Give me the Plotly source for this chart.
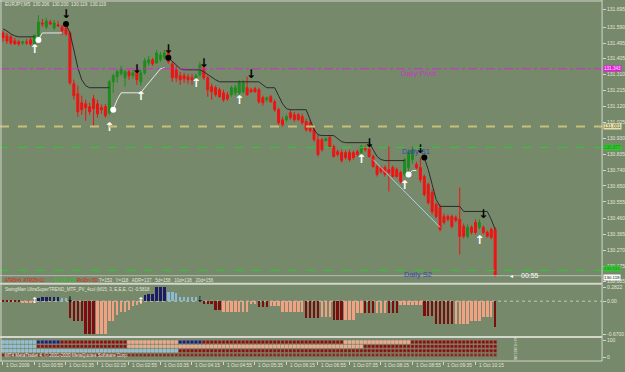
import plotly.graph_objects as go

# ---------------- data ----------------
bars = list(range(126))

open_ = [131.555,131.538,131.532,131.508,131.502,131.496,131.502,131.514,131.490,131.538,
         131.614,131.591,131.620,131.585,131.603,131.591,131.585,131.555,131.254,131.195,
         131.142,131.136,131.119,131.166,131.136,131.113,131.119,131.083,131.266,131.296,
         131.313,131.290,131.325,131.302,131.325,131.266,131.319,131.378,131.396,131.378,
         131.396,131.408,131.437,131.372,131.337,131.302,131.302,131.296,131.290,131.284,
         131.308,131.349,131.290,131.237,131.231,131.219,131.201,131.189,131.189,131.201,
         131.201,131.207,131.231,131.219,131.225,131.219,131.172,131.160,131.178,131.148,
         131.101,131.042,131.042,131.083,131.071,131.071,131.060,131.030,131.024,130.983,
         130.924,130.924,130.918,130.936,130.883,130.853,130.847,130.847,130.847,130.847,
         130.853,130.847,130.877,130.865,130.824,130.765,130.759,130.759,130.747,130.759,
         130.747,130.729,130.718,130.759,130.806,130.777,130.759,130.706,130.659,130.611,
         130.541,130.523,130.469,130.469,130.469,130.464,130.452,130.411,130.352,130.405,
         130.434,130.405,130.405,130.375,130.393,130.393]
high = [131.567,131.555,131.543,131.526,131.514,131.508,131.520,131.526,131.508,131.661,
        131.638,131.644,131.632,131.632,131.626,131.603,131.608,131.567,131.278,131.243,
        131.184,131.160,131.142,131.189,131.160,131.131,131.136,131.278,131.313,131.337,
        131.361,131.337,131.337,131.337,131.349,131.337,131.408,131.420,131.408,131.455,
        131.443,131.455,131.467,131.384,131.361,131.325,131.319,131.313,131.313,131.313,
        131.384,131.361,131.302,131.254,131.243,131.231,131.219,131.207,131.243,131.248,
        131.278,131.278,131.296,131.231,131.237,131.231,131.184,131.178,131.189,131.160,
        131.113,131.060,131.071,131.101,131.089,131.083,131.077,131.048,131.042,130.995,
        130.953,130.936,130.936,130.948,130.894,130.865,130.865,130.859,130.865,130.859,
        130.865,130.894,130.889,130.883,130.836,130.777,130.771,130.771,130.883,130.771,
        130.759,130.741,130.818,130.865,130.883,130.794,130.818,130.718,130.670,130.629,
        130.552,130.541,130.487,130.481,130.481,130.475,130.641,130.428,130.422,130.417,
        130.452,130.452,130.417,130.387,130.405,130.405]
low = [131.502,131.490,131.484,131.484,131.479,131.484,131.484,131.479,131.473,131.532,
       131.591,131.579,131.603,131.573,131.591,131.543,131.538,131.248,131.160,131.060,
       131.071,131.036,131.071,131.001,131.054,131.077,131.054,131.071,131.201,131.260,
       131.302,131.237,131.278,131.284,131.248,131.243,131.308,131.361,131.361,131.372,
       131.384,131.396,131.372,131.266,131.266,131.248,131.260,131.254,131.248,131.266,
       131.296,131.278,131.178,131.160,131.178,131.172,131.148,131.154,131.178,131.184,
       131.189,131.195,131.184,131.201,131.201,131.136,131.125,131.148,131.142,131.089,
       131.012,131.001,131.030,131.042,131.030,131.036,131.012,130.971,130.965,130.912,
       130.824,130.853,130.912,130.871,130.818,130.824,130.788,130.806,130.794,130.806,
       130.824,130.836,130.853,130.818,130.759,130.706,130.724,130.706,130.617,130.700,
       130.700,130.664,130.706,130.718,130.782,130.747,130.670,130.588,130.540,130.481,
       130.458,130.381,130.422,130.440,130.399,130.434,130.245,130.340,130.340,130.364,
       130.364,130.393,130.364,130.346,130.334,130.110]
close = [131.526,131.508,131.496,131.490,131.490,131.502,131.496,131.490,131.543,131.620,
         131.608,131.626,131.608,131.614,131.597,131.567,131.549,131.260,131.184,131.089,
         131.101,131.113,131.089,131.107,131.077,131.101,131.065,131.266,131.302,131.325,
         131.343,131.325,131.302,131.319,131.278,131.319,131.390,131.396,131.372,131.437,
         131.425,131.437,131.384,131.290,131.290,131.278,131.284,131.278,131.278,131.302,
         131.366,131.290,131.219,131.207,131.189,131.178,131.160,131.166,131.231,131.231,
         131.260,131.260,131.189,131.207,131.207,131.148,131.142,131.172,131.148,131.101,
         131.024,131.012,131.060,131.054,131.042,131.042,131.024,130.983,130.977,130.924,
         130.836,130.865,130.930,130.883,130.824,130.836,130.800,130.818,130.806,130.818,
         130.836,130.883,130.865,130.824,130.765,130.718,130.735,130.718,130.729,130.706,
         130.706,130.676,130.806,130.847,130.865,130.759,130.688,130.600,130.552,130.499,
         130.469,130.393,130.434,130.452,130.411,130.446,130.352,130.352,130.405,130.375,
         130.375,130.434,130.375,130.352,130.346,130.122]

# trailing stop lines: (first bar, values)
black_stop_segments = [
    (0, [131.579,131.567,131.549,131.538,131.532,131.532,131.532,131.532,131.532]),
    (16, [131.608,131.555,131.455,131.349,131.278,131.243,131.231,131.231,131.231,131.231,
          131.231,131.231]),
    (42, [131.408,131.384,131.366,131.343,131.337,131.337,131.337,131.337,131.337,131.325,
          131.308,131.290,131.278,131.266,131.266,131.266,131.266,131.266,131.266,131.266,
          131.266,131.266,131.266,131.266,131.248,131.231,131.231,131.231,131.184,131.136,
          131.107,131.101,131.101,131.101,131.101,131.101,131.042,130.983,130.953,130.948,
          130.948,130.948,130.948,130.930,130.912,130.906,130.906,130.906,130.906,130.906,
          130.906,130.906,130.865,130.824,130.806,130.800,130.800,130.800,130.800,130.800,
          130.800]),
    (107, [130.818,130.747,130.659,130.570,130.529,130.529,130.529,130.529,130.529,130.529,
           130.499,130.499,130.499,130.499,130.499,130.499,130.499,130.452,130.393]),
]
white_stop_segments = [
    (9, [131.514,131.555,131.555,131.555,131.555,131.555,131.555]),
    (28, [131.101,131.160,131.201,131.201,131.201,131.201,131.201,131.201,131.231,131.260,
          131.290,131.319,131.343,131.349]),
    (103, [130.718,130.741,130.741]),
]
trend_line_bars = [94, 111]
trend_line_prices = [130.806, 130.405]

black_dot_bars = [16, 42, 107]
black_dot_prices = [131.608, 131.408, 130.818]
white_dot_bars = [9, 28, 103]
white_dot_prices = [131.514, 131.101, 130.718]

down_arrow_bars = [16, 34, 42, 51, 63, 93, 106, 122]
down_arrow_prices = [131.661, 131.337, 131.455, 131.372, 131.308, 130.900, 130.865, 130.476]
up_arrow_bars = [8, 27, 35, 49, 60, 91, 102, 121]
up_arrow_prices = [131.455, 130.995, 131.178, 131.254, 131.154, 130.806, 130.647, 130.322]

pivot_level, r_level, s1_level, s2_level, bid_level = 131.343, 131.001, 130.877, 130.151, 130.119

price_ticks = [131.695, 131.590, 131.495, 131.405, 131.310, 131.215, 131.120, 131.025, 130.930,
               130.835, 130.740, 130.650, 130.555, 130.460, 130.365, 130.270, 130.175, 130.085]

# SuperTrend MTF histogram
ind_values = [-0.03,-0.03,-0.03,-0.03,-0.03,-0.05,-0.05,-0.05,-0.05,
              0.07,0.08,0.08,0.09,0.08,0.08,0.07,0.06,
              -0.35,-0.40,-0.40,-0.40,-0.66,-0.66,-0.66,-0.66,-0.66,-0.66,-0.40,-0.40,
              -0.28,-0.22,-0.22,-0.18,-0.10,-0.08,-0.06,
              0.12,0.14,0.14,0.28,0.28,0.28,0.18,0.18,0.16,0.08,0.08,0.08,0.08,0.08,0.08,
              -0.06,-0.06,-0.06,-0.18,-0.18,
              -0.22,-0.22,-0.22,-0.22,-0.22,-0.22,-0.22,-0.06,-0.06,
              -0.12,-0.12,-0.12,-0.10,-0.10,-0.10,
              -0.22,-0.22,-0.22,-0.22,-0.22,-0.22,
              -0.34,-0.34,-0.34,-0.34,-0.32,-0.32,-0.32,-0.38,-0.38,-0.38,-0.38,-0.38,-0.38,
              -0.24,-0.24,-0.24,-0.24,-0.24,-0.24,-0.24,-0.24,-0.24,-0.24,-0.24,
              -0.08,-0.08,-0.08,-0.08,-0.08,-0.08,
              -0.30,-0.30,-0.30,-0.46,-0.46,-0.46,-0.46,-0.46,-0.46,-0.46,-0.46,-0.46,
              -0.40,-0.40,-0.40,-0.32,-0.32,-0.32,-0.52]
ind_colors = (["dn"]*5 + ["dl"]*4 + ["up"]*6 + ["ul"]*2 + ["dn"]*7 + ["dl"]*12 +
              ["up"]*6 + ["ul"]*9 + ["dn"]*5 + ["dl"]*9 + ["dn"]*3 + ["dl"]*9 +
              ["dn"]*4 + ["dl"]*3 + ["dn"]*3 + ["dl"]*5 + ["dn"]*3 + ["dl"]*3 +
              ["dn"]*3 + ["dl"]*6 + ["dn"]*8 + ["dl"]*10 + ["dn"]*1)

# MTF status rows (run lengths)
row_names = ["M5", "M15", "H1", "H4"]
row_runs = [
    [("ul", 9), ("up", 6), ("dn", 17), ("dl", 13), ("up", 6), ("dn", 36), ("dl", 17), ("dn", 22)],
    [("ul", 9), ("dn", 23), ("dl", 60), ("dn", 34)],
    [("ul", 45), ("dn", 81)],
    [("br", 126)],
]

time_label_bars = [0, 8, 16, 24, 32, 40, 48, 56, 64, 72, 80, 88, 96, 104, 112, 120]
time_labels = ["1 Oct 2009", "1 Oct 00:55", "1 Oct 01:35", "1 Oct 02:15", "1 Oct 02:55",
               "1 Oct 03:35", "1 Oct 04:15", "1 Oct 04:55", "1 Oct 05:35", "1 Oct 06:15",
               "1 Oct 06:55", "1 Oct 07:35", "1 Oct 08:15", "1 Oct 08:55", "1 Oct 09:35",
               "1 Oct 10:15"]

# ---------------- styling ----------------
W, H = 625, 372
BG = "#76896a"
FR = "#d4d6cc"
TXT = "#e4e6dc"
FONT = "Liberation Sans"
cmap = {"dn": "#7e0d0d", "dl": "#f2a283", "up": "#1b1b66", "ul": "#8bbad8", "br": "#7a2a22"}
cedge = {"dn": "#a83838", "dl": "#f6c0a8", "up": "#4848a0", "ul": "#b0d4ea", "br": "#a05a48"}

def py(px):
    return 1 - px / H

def pxx(px):
    return px / W

XR = [-0.76, 152.15]
XD = [0, 604 / W]

fig = go.Figure()

fig.add_trace(go.Candlestick(
    x=bars, open=open_, high=high, low=low, close=close,
    increasing=dict(line=dict(color="#1d8c1d", width=1), fillcolor="#1d8c1d"),
    decreasing=dict(line=dict(color="#f01212", width=1), fillcolor="#f01212"),
    whiskerwidth=0, xaxis="x", yaxis="y", hoverinfo="skip"))

for start, vals in black_stop_segments:
    fig.add_trace(go.Scatter(x=list(range(start, start + len(vals))), y=vals, mode="lines",
                             line=dict(color="#2a2a2a", width=1), xaxis="x", yaxis="y"))
for start, vals in white_stop_segments:
    fig.add_trace(go.Scatter(x=list(range(start, start + len(vals))), y=vals, mode="lines",
                             line=dict(color="#e8e8e8", width=1), xaxis="x", yaxis="y"))
fig.add_trace(go.Scatter(x=trend_line_bars, y=trend_line_prices, mode="lines",
                         line=dict(color="#a8d4ea", width=1), xaxis="x", yaxis="y"))
fig.add_trace(go.Scatter(x=black_dot_bars, y=black_dot_prices, mode="markers",
                         marker=dict(color="#000000", size=6), xaxis="x", yaxis="y"))
fig.add_trace(go.Scatter(x=white_dot_bars, y=white_dot_prices, mode="markers",
                         marker=dict(color="#ffffff", size=6), xaxis="x", yaxis="y"))
fig.add_trace(go.Scatter(x=down_arrow_bars, y=down_arrow_prices, mode="text",
                         text=["<b>↓</b>"] * len(down_arrow_bars),
                         textfont=dict(color="#000000", size=12, family="DejaVu Sans"),
                         xaxis="x", yaxis="y"))
fig.add_trace(go.Scatter(x=up_arrow_bars, y=up_arrow_prices, mode="text",
                         text=["<b>↑</b>"] * len(up_arrow_bars),
                         textfont=dict(color="#ffffff", size=12, family="DejaVu Sans"),
                         xaxis="x", yaxis="y"))

# indicator histogram
fig.add_trace(go.Bar(x=bars, y=ind_values, marker=dict(color=[cmap[c] for c in ind_colors], line=dict(width=0)),
                     width=0.62, xaxis="x2", yaxis="y2"))
fig.add_trace(go.Scatter(x=[8, 35], y=[0, 0], mode="text", text=["<b>↑</b>", "<b>↑</b>"],
                         textfont=dict(color="#ffffff", size=8, family="DejaVu Sans"), xaxis="x2", yaxis="y2"))
fig.add_trace(go.Scatter(x=[17, 50], y=[0.02, 0.02], mode="text", text=["<b>↓</b>", "<b>↓</b>"],
                         textfont=dict(color="#000000", size=8, family="DejaVu Sans"), xaxis="x2", yaxis="y2"))

# MTF rows
for r, runs in enumerate(row_runs):
    cols = []
    for c, n in runs:
        cols += [c] * n
    fig.add_trace(go.Scatter(x=bars, y=[4 - r] * len(bars), mode="markers",
                             marker=dict(symbol="square", size=2.8, color=[cmap[c] for c in cols],
                                         line=dict(color=[cedge[c] for c in cols], width=0.5)),
                             xaxis="x3", yaxis="y3"))

shapes = []
# level lines
shapes.append(dict(type="line", xref="x", yref="y", x0=XR[0], x1=XR[1], y0=pivot_level, y1=pivot_level,
                   line=dict(color="#d02cd0", width=1, dash="dashdot")))
shapes.append(dict(type="line", xref="x", yref="y", x0=XR[0], x1=XR[1], y0=r_level, y1=r_level,
                   line=dict(color="#c8c07a", width=2, dash="dash")))
shapes.append(dict(type="line", xref="x", yref="y", x0=XR[0], x1=XR[1], y0=s1_level, y1=s1_level,
                   line=dict(color="#2ccc2c", width=1, dash="dash")))
shapes.append(dict(type="line", xref="x", yref="y", x0=XR[0], x1=XR[1], y0=s2_level, y1=s2_level,
                   line=dict(color="#2ccc2c", width=1, dash="dash")))
shapes.append(dict(type="line", xref="x", yref="y", x0=XR[0], x1=XR[1], y0=bid_level, y1=bid_level,
                   line=dict(color="#b8bab0", width=1)))
shapes.append(dict(type="line", xref="x2", yref="y2", x0=XR[0], x1=XR[1], y0=0, y1=0,
                   line=dict(color="#c8c8c0", width=1, dash="dot"), layer="below"))
# frame
shapes.append(dict(type="line", xref="paper", yref="paper", x0=0, x1=XD[1], y0=py(1), y1=py(1),
                   line=dict(color=FR, width=1)))
for y0, w in [(284.5, 2), (338, 2), (362, 1)]:
    shapes.append(dict(type="line", xref="paper", yref="paper", x0=0, x1=XD[1], y0=py(y0), y1=py(y0),
                       line=dict(color=FR, width=w)))
shapes.append(dict(type="line", xref="paper", yref="paper", x0=pxx(1), x1=pxx(1), y0=py(362), y1=py(0),
                   line=dict(color=FR, width=1)))
shapes.append(dict(type="line", xref="paper", yref="paper", x0=XD[1], x1=XD[1], y0=py(362), y1=py(0),
                   line=dict(color=FR, width=1)))

ann = []
def A(x, y, text, color=TXT, size=5, xref="paper", yref="paper", xanchor="left", yanchor="middle",
      bg=None, textangle=0, yshift=0):
    d = dict(x=x, y=y, text=text, xref=xref, yref=yref, xanchor=xanchor, yanchor=yanchor,
             showarrow=False, font=dict(color=color, size=size, family=FONT), textangle=textangle,
             yshift=yshift)
    if bg:
        d.update(bgcolor=bg, borderpad=0)
    ann.append(d)

A(pxx(3), py(5), "EURJPY,M5  130.206  130.200  130.119  130.119", size=4.6)
A(100.5, 131.316, "Daily Pivot", color="#cc33cc", size=7.5, xref="x", yref="y")
A(100.8, 130.853, "Daily S1", color="#3848a8", size=7.5, xref="x", yref="y")
A(101.3, 130.128, "Daily S2", color="#3848a8", size=7.5, xref="x", yref="y")
A(128.2, bid_level, "◂", color="#ffffff", size=6, xref="x", yref="y")
A(131.0, bid_level, "00:55", color="#ffffff", size=7, xref="x", yref="y")

A(pxx(3), py(281), "ATR5=6  ATR25=11", color="#e42020", size=4.5)
A(pxx(53), py(281), "RmUp:137", color="#22cc22", size=4.5)
A(pxx(75), py(281), "RmDn:-50", color="#e42020", size=4.5)
A(pxx(97), py(281), "T=153   Y=118   ADR=137   5d=158   10d=138   20d=156", size=4.5)
A(pxx(3), py(290), "SwingMan UltraSuperTREND_MTF_PV_4col (M15, 3, E,E,E, C) -0.5818", size=4.5)
A(pxx(3), py(356), "MT4 MetaTrader 4, © 2001-2009 MetaQuotes Software Corp.", size=4.5)
A(pxx(517), py(350), " ".join(reversed(row_names)), size=3.5, textangle=90, xanchor="center")

# right-axis price boxes
A(pxx(605), pivot_level, "131.343", color="#ffe0ff", size=4.6, yref="y", bg="#e020d8")
A(pxx(605), r_level, "131.001", color="#5a5a30", size=4.6, yref="y", bg="#e6dfab")
A(pxx(605), s1_level, "130.877", color="#1a8a1a", size=4.6, yref="y", bg="#33c433")
A(pxx(605), s2_level, "130.151", color="#1a8a1a", size=4.4, yref="y", bg="#33c433", yshift=2)
A(pxx(605), bid_level, "130.119", color="#000000", size=4.4, yref="y", bg="#ffffff", yshift=-2)

for b, t in zip(time_label_bars, time_labels):
    A(b + 0.3, py(366), t, size=4.8, xref="x3")

fig.update_layout(
    width=W, height=H, margin=dict(l=0, r=0, t=0, b=0),
    paper_bgcolor=BG, plot_bgcolor=BG, showlegend=False, bargap=0,
    boxgap=0.3, shapes=shapes, annotations=ann,
    font=dict(family=FONT, color=TXT, size=5),
    xaxis=dict(domain=XD, range=XR, anchor="y", showticklabels=False, showgrid=False, zeroline=False,
               rangeslider=dict(visible=False), fixedrange=True),
    xaxis2=dict(domain=XD, range=XR, anchor="y2", matches="x", showticklabels=False, showgrid=False,
                zeroline=False),
    xaxis3=dict(domain=XD, range=XR, anchor="y3", matches="x", showticklabels=False, showgrid=False,
                zeroline=False, tickvals=time_label_bars, ticks="outside", ticklen=3,
                tickcolor=FR, tickwidth=1),
    yaxis=dict(domain=[py(284), py(1)], range=[130.0744, 131.7441], side="right", anchor="x",
               tickvals=price_ticks, ticktext=["%.3f" % v for v in price_ticks],
               ticks="outside", ticklen=3, tickcolor=FR, tickfont=dict(size=5, color=TXT),
               showgrid=False, zeroline=False),
    yaxis2=dict(domain=[py(338), py(285)], range=[-0.726, 0.343], side="right", anchor="x2",
                tickvals=[0.2822, 0, -0.67], ticktext=["0.2822", "0.00", "-0.6700"],
                ticks="outside", ticklen=3, tickcolor=FR, tickfont=dict(size=5, color=TXT),
                showgrid=False, zeroline=False),
    yaxis3=dict(domain=[py(362), py(338)], range=[-0.386, 5.15], side="right", anchor="x3",
                tickvals=[4.46, 0.54], ticktext=["100", "0"],
                ticks="outside", ticklen=3, tickcolor=FR, tickfont=dict(size=5, color=TXT),
                showgrid=False, zeroline=False),
)

fig.write_html("out.html")
